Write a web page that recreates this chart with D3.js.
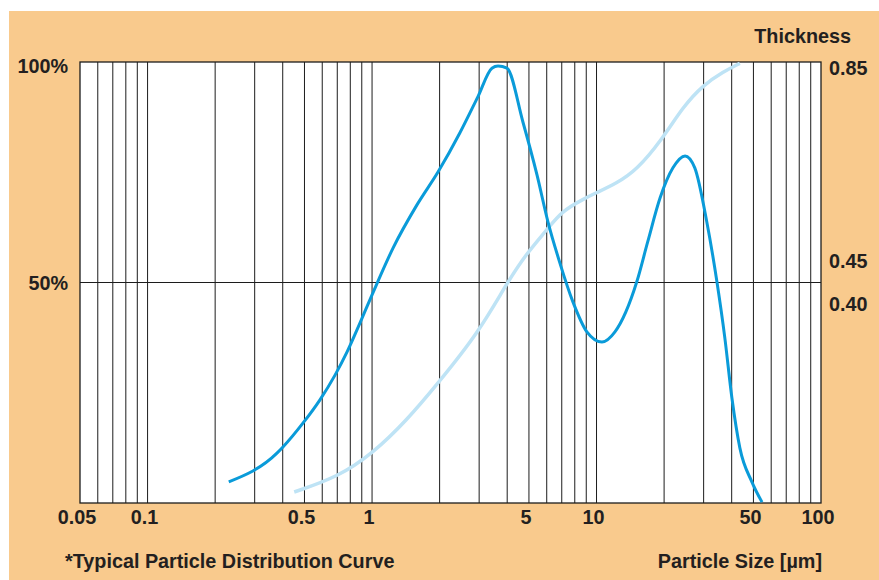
<!DOCTYPE html>
<html>
<head>
<meta charset="utf-8">
<script src="https://cdn.jsdelivr.net/npm/d3@7"></script>
<style>
  html, body { margin: 0; padding: 0; background: #ffffff; }
  svg { display: block; }
  text { font-family: "Liberation Sans", Arial, Helvetica, sans-serif; font-weight: bold; fill: #231f20; }
</style>
</head>
<body>
<svg id="chart" width="879" height="580"></svg>
<script>
// ---- data ----
// Particle distribution curve (dark blue): particle size [µm] and percent
const distSize = [0.23, 0.377, 0.401, 0.492, 0.586, 0.684, 0.773, 0.883, 1.0, 1.24, 1.585, 1.97, 2.46, 2.96, 3.42, 3.64, 3.99, 4.70, 5.43, 6.08, 6.87, 7.85, 9.06, 10.57, 12.08, 15.1, 16.9, 19.2, 21.9, 24.8, 27.4, 31.0, 34.4, 37.3, 40.1, 43.5, 49.2, 54.6];
const distPct  = [4.8, 11.3, 12.7, 18.1, 23.4, 29.0, 34.2, 40.8, 47.2, 57.8, 67.6, 75.1, 83.9, 92.1, 98.6, 99.1, 98.6, 86.4, 74.4, 63.7, 54.4, 45.6, 38.8, 36.5, 38.8, 50.1, 59.2, 69.2, 76.0, 78.7, 76.0, 63.7, 50.1, 37.4, 23.8, 12.5, 4.8, 0.2];

// Cumulative curve (light blue)
const cumSize = [0.45, 0.705, 1.01, 1.43, 1.94, 2.97, 3.98, 4.88, 6.00, 7.00, 8.88, 9.84, 12.29, 15.09, 19.5, 24.3, 29.9, 36.7, 43.5];
const cumPct  = [2.5, 5.9, 11.3, 18.8, 26.8, 38.5, 49.8, 56.6, 61.9, 66.2, 69.1, 70.2, 72.5, 75.5, 82.3, 89.9, 94.8, 97.8, 99.7];

// Axis tick labels
const xTickValues = [0.05, 0.1, 0.5, 1, 5, 10, 50, 100];
const xTickLabels = ["0.05", "0.1", "0.5", "1", "5", "10", "50", "100"];
const yTickValues = [50, 100];
const yTickLabels = ["50%", "100%"];
const thicknessLabels = ["0.85", "0.45", "0.40"];
const thicknessLevels = [98.6, 54.8, 45.1];   // level (percent) where each thickness label sits

// ---- layout ----
const W = 879, H = 580;
const plot = { left: 80, right: 821, top: 62, bottom: 503 };

const svg = d3.select("#chart");

// orange background
svg.append("rect").attr("x", 9).attr("y", 11).attr("width", W - 9).attr("height", H - 11)
  .attr("fill", "#f9ca8d");

const x = d3.scaleLog().domain([0.05, 100]).range([plot.left, plot.right]);
const y = d3.scaleLinear().domain([0, 100]).range([plot.bottom, plot.top]);

// plot area
svg.append("rect").attr("x", plot.left).attr("y", plot.top)
  .attr("width", plot.right - plot.left).attr("height", plot.bottom - plot.top)
  .attr("fill", "#ffffff");

// vertical grid lines (log ticks)
const gridVals = x.ticks().filter(v => v > 0.05 && v < 100);
svg.append("g").selectAll("line").data(gridVals).join("line")
  .attr("x1", d => x(d)).attr("x2", d => x(d))
  .attr("y1", plot.top).attr("y2", plot.bottom)
  .attr("stroke", "#1c1c1c").attr("stroke-width", 1);

// horizontal grid line at 50%
svg.append("g").selectAll("line").data(yTickValues.filter(v => v < 100)).join("line")
  .attr("x1", plot.left).attr("x2", plot.right)
  .attr("y1", d => y(d)).attr("y2", d => y(d))
  .attr("stroke", "#1c1c1c").attr("stroke-width", 1);

// border
svg.append("rect").attr("x", plot.left).attr("y", plot.top)
  .attr("width", plot.right - plot.left).attr("height", plot.bottom - plot.top)
  .attr("fill", "none").attr("stroke", "#1c1c1c").attr("stroke-width", 1.3);

// curves
const distLine = d3.line().x(d => x(d[0])).y(d => y(d[1])).curve(d3.curveMonotoneX);
const cumLine = d3.line().x(d => x(d[0])).y(d => y(d[1])).curve(d3.curveBasis);
const cumData = cumSize.map((s, i) => [s, cumPct[i]]);
const distData = distSize.map((s, i) => [s, distPct[i]]);

svg.append("path").datum(cumData).attr("d", cumLine)
  .attr("fill", "none").attr("stroke", "#bee3f5").attr("stroke-width", 3.5);
svg.append("path").datum(distData).attr("d", distLine)
  .attr("fill", "none").attr("stroke", "#0a9bd9").attr("stroke-width", 3);

// x tick labels
svg.append("g").selectAll("text").data(xTickValues).join("text")
  .attr("x", d => x(d) - 3).attr("y", 524)
  .attr("text-anchor", "middle").attr("font-size", "19.8px")
  .text((d, i) => xTickLabels[i]);

// left y labels
svg.append("g").selectAll("text").data(yTickValues).join("text")
  .attr("x", 68).attr("y", d => Math.max(y(d) + 7, y(100) + 11))
  .attr("text-anchor", "end").attr("font-size", "19.8px")
  .text((d, i) => yTickLabels[i]);

// right thickness labels
svg.append("g").selectAll("text").data(thicknessLevels).join("text")
  .attr("x", 829).attr("y", d => y(d) + 7)
  .attr("text-anchor", "start").attr("font-size", "19.8px")
  .text((d, i) => thicknessLabels[i]);

svg.append("text").attr("x", 851).attr("y", 43).attr("text-anchor", "end")
  .attr("font-size", "19.8px").text("Thickness");

svg.append("text").attr("x", 65).attr("y", 568).attr("text-anchor", "start")
  .attr("font-size", "19.8px").text("*Typical Particle Distribution Curve");

svg.append("text").attr("x", 822).attr("y", 568).attr("text-anchor", "end")
  .attr("font-size", "19.8px").text("Particle Size [µm]");
</script>
</body>
</html>
